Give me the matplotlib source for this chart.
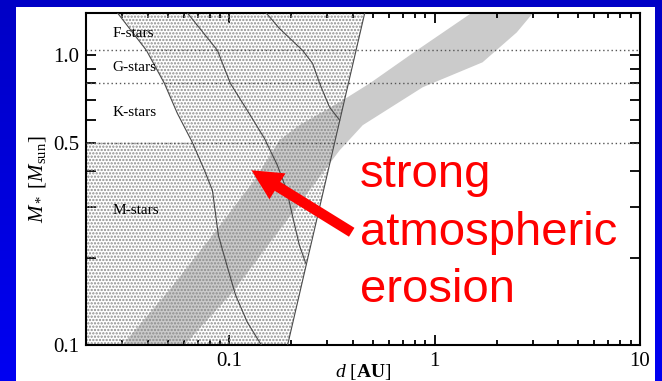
import numpy as np
import matplotlib
matplotlib.use("Agg")
import matplotlib.pyplot as plt
from matplotlib.patches import Rectangle, Polygon
from matplotlib.colors import LinearSegmentedColormap
from matplotlib.ticker import FixedLocator, FixedFormatter, NullLocator, NullFormatter, LogLocator

plt.rcParams['font.family'] = 'Liberation Serif'
plt.rcParams['mathtext.fontset'] = 'custom'
plt.rcParams['mathtext.rm'] = 'Liberation Serif'
plt.rcParams['mathtext.it'] = 'Liberation Serif:italic'
plt.rcParams['mathtext.bf'] = 'Liberation Serif:bold'
plt.rcParams['hatch.linewidth'] = 1.1

# ---- data -------------------------------------------------------------
d_range = [0.02, 10.0]          # orbital distance [AU]
m_range = [0.1, 1.4]            # stellar mass [M_sun]

class_names = ['F-stars', 'G-stars', 'K-stars', 'M-stars']
class_label_mass = [1.19, 0.91, 0.635, 0.292]
class_label_d = 0.0268
class_bounds = [1.04, 0.80, 0.50]

# inner boundary curves (d, M)
curve1_d = [0.0285, 0.0394, 0.0482, 0.0557, 0.0660, 0.0755, 0.0826, 0.0883, 0.0956, 0.107, 0.122, 0.143]
curve1_m = [1.40, 1.04, 0.80, 0.631, 0.50, 0.401, 0.342, 0.239, 0.196, 0.149, 0.120, 0.10]
curve2_d = [0.0624, 0.0874, 0.101, 0.122, 0.148, 0.171, 0.190, 0.205, 0.219, 0.235]
curve2_m = [1.40, 1.04, 0.80, 0.646, 0.517, 0.418, 0.342, 0.270, 0.221, 0.192]
curve3_d = [0.151, 0.175, 0.227, 0.254, 0.275, 0.307, 0.344]
curve3_m = [1.40, 1.239, 1.04, 0.938, 0.80, 0.663, 0.597]

# outer boundary (straight in log-log)
outer_d = [0.192, 0.456]
outer_m = [0.10, 1.40]

# erosion band edges
band_upper_d = [0.0301, 0.0510, 0.0826, 0.1324, 0.175, 0.219, 0.344, 0.482, 0.817, 1.51]
band_upper_m = [0.10, 0.155, 0.239, 0.371, 0.509, 0.574, 0.689, 0.80, 1.04, 1.40]
band_lower_d = [0.0603, 0.1034, 0.175, 0.344, 0.446, 0.874, 1.71, 2.51, 3.01]
band_lower_m = [0.10, 0.152, 0.249, 0.470, 0.574, 0.776, 0.946, 1.20, 1.40]

# annotation arrow (tip, tail)
arrow_tip = (0.128, 0.401)
arrow_tail = (0.394, 0.245)
note_text = 'strong\natmospheric\nerosion'

x_major = [0.1, 1, 10]
x_major_labels = ['0.1', '1', '10']
y_major = [0.1, 0.2, 0.3, 0.4, 0.5, 0.6, 0.7, 0.8, 0.9, 1.0]
y_major_labels = ['0.1', '', '', '', '0.5', '', '', '', '', '1.0']

# ---- figure -----------------------------------------------------------
W, H = 662, 381
fig = plt.figure(figsize=(W / 100, H / 100), dpi=100)

bg = fig.add_axes([0, 0, 1, 1], zorder=-10)
grad = np.linspace(0, 1, 256)[:, None]
cmap = LinearSegmentedColormap.from_list('bluegrad', ['#0000c6', '#0000f2'])
bg.imshow(grad, cmap=cmap, aspect='auto', extent=[0, 1, 0, 1], origin='upper')
bg.add_patch(Rectangle((16 / W, 0), (655 - 16) / W, (H - 7) / H, facecolor='white', edgecolor='none'))
bg.set_xlim(0, 1)
bg.set_ylim(0, 1)
bg.axis('off')

ax = fig.add_axes([86 / W, 1 - 345 / H, (640 - 86) / W, (345 - 13) / H])
ax.set_xscale('log')
ax.set_yscale('log')
ax.set_xlim(*d_range)
ax.set_ylim(*m_range)

# erosion band
band_d = band_upper_d + band_lower_d[::-1]
band_m = band_upper_m + band_lower_m[::-1]
ax.fill(band_d, band_m, color='#cbcbcb', lw=0, zorder=1)

# hatched (dotted) region
i_half = curve1_m.index(0.50)
hatch_d = curve1_d[:i_half + 1] + [d_range[0], d_range[0], outer_d[0], outer_d[1]]
hatch_m = curve1_m[:i_half + 1] + [0.50, m_range[0], outer_m[0], outer_m[1]]
ax.add_patch(Polygon(np.column_stack([hatch_d, hatch_m]), closed=True,
                     facecolor='none', edgecolor='#8c8c8c', lw=0, hatch='.....', zorder=2))

# class boundaries
for mb in class_bounds:
    ax.axhline(mb, color='#555555', lw=1.0, ls=(0, (1, 2)), zorder=3)

# boundary curves
line_kw = dict(color='#4a4a4a', lw=0.8, zorder=4)
ax.plot(curve1_d, curve1_m, **line_kw)
ax.plot(curve2_d, curve2_m, **line_kw)
ax.plot(curve3_d, curve3_m, **line_kw)
ax.plot(outer_d, outer_m, **line_kw)

for name, mm in zip(class_names, class_label_mass):
    ax.text(class_label_d, mm, name, fontsize=11, va='center', ha='left', zorder=5)

# annotation
ax.annotate('', xy=arrow_tip, xytext=arrow_tail,
            arrowprops=dict(arrowstyle='simple,head_length=22,head_width=22,tail_width=7.5',
                            mutation_scale=1, color='red', lw=0, shrinkA=0, shrinkB=0), zorder=6)
ax.text(0.494, 0.577, note_text, transform=ax.transAxes, family='Liberation Sans',
        fontsize=34, color='red', ha='left', va='top', linespacing=1.39, zorder=6)

# axes styling
ax.xaxis.set_major_locator(FixedLocator(x_major))
ax.xaxis.set_major_formatter(FixedFormatter(x_major_labels))
ax.xaxis.set_minor_locator(LogLocator(base=10, subs=np.arange(2, 10)))
ax.xaxis.set_minor_formatter(NullFormatter())
ax.yaxis.set_major_locator(FixedLocator(y_major))
ax.yaxis.set_major_formatter(FixedFormatter(y_major_labels))
ax.yaxis.set_minor_locator(NullLocator())

ax.tick_params(which='both', direction='in', top=True, right=True, width=1.3, colors='black')
ax.tick_params(which='major', length=7.5, labelsize=15, pad=5)
ax.tick_params(which='minor', length=3.8)
for s in ax.spines.values():
    s.set_linewidth(1.5)

ax.set_xlabel(r'$d$ [$\mathbf{AU}$]', fontsize=14)
ax.set_ylabel(r'$M_*$ [$M_{\rm sun}$]', fontsize=15)
ax.xaxis.set_label_coords(0.5, -0.052)
ax.yaxis.set_label_coords(-0.068, 0.5)

fig.savefig('out.png', dpi=100)
